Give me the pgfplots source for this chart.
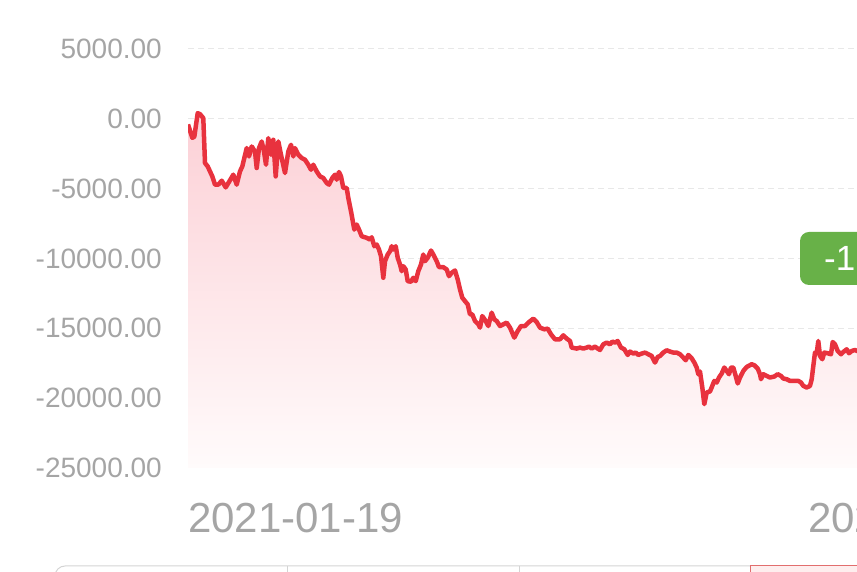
\documentclass[border=0pt]{standalone}
\usepackage{fontspec}
\setmainfont{Liberation Sans}
\usepackage{pgfplots}
\pgfplotsset{compat=1.18}
\usepackage{pgfplotstable}
\usepgfplotslibrary{fillbetween}
\definecolor{lineRed}{RGB}{232,50,62}
\definecolor{fillTop}{RGB}{252,208,214}
\definecolor{fillBot}{RGB}{255,251,251}
\definecolor{gridGray}{RGB}{232,232,232}
\definecolor{tickGray}{RGB}{165,165,165}
\definecolor{tagGreen}{RGB}{104,177,72}
\definecolor{tabGray}{RGB}{212,212,212}
\definecolor{tabRed}{RGB}{226,110,110}
\definecolor{tabPink}{RGB}{254,238,238}
\pgfplotstableread{
x y
0 -400
4.3 -1357
6.3 -1286
9.7 407
12 336
15.3 50
17 -3164
19.7 -3407
22 -3764
24.3 -4121
27 -4714
30.3 -4714
33.7 -4429
37.7 -4907
41 -4521
45.3 -4000
48.7 -4714
52 -3764
54.3 -3407
58.7 -2093
61 -2693
63.7 -1979
67 -2336
68.7 -3521
71 -2093
73.7 -1621
75.7 -2214
78 -3286
80.3 -1379
83 -2571
85.3 -1500
87.7 -4121
90.3 -1621
93 -2571
97 -3879
100.3 -2336
103 -1857
105.3 -2693
107 -2093
110.3 -2571
113.7 -2807
117 -2929
120.3 -3286
123 -3643
125.3 -3286
128.7 -3764
132 -4121
135.3 -4236
138.7 -4593
141 -4714
144.3 -4236
147 -4000
148.7 -4357
151 -3807
153 -4121
155.3 -4950
158.7 -4950
160.3 -5664
163 -6621
166.3 -7929
168.7 -7571
171 -7929
173.7 -8407
178.7 -8521
182 -8643
183.7 -8479
186.3 -9121
188.7 -9000
191 -9357
193 -9836
195.3 -11379
197 -10193
199.7 -9714
202 -9479
203.7 -9121
205.3 -9357
207.7 -9121
209.7 -9950
212 -10429
213.7 -10907
215.3 -10550
217.7 -10786
219.7 -11621
223 -11664
225.3 -11379
227.7 -11621
230.3 -10907
233 -10429
235.3 -9714
237 -10193
239.7 -9950
243 -9429
245.3 -9714
248.7 -10193
251 -10621
255.3 -10621
258.7 -10786
261 -11264
263.7 -11021
267 -10857
269.7 -11500
272 -12214
274.3 -12807
277 -13050
279.7 -13286
282 -14000
284.3 -14000
287 -14479
290.3 -14714
292 -14950
294.3 -14121
297.7 -14479
300.3 -14836
303.7 -13879
306.3 -14357
308.7 -14479
312 -14836
315.3 -14714
318.7 -14593
322 -14950
326.3 -15664
329.7 -15193
333 -14836
337 -14836
340.3 -14593
345.3 -14307
348.7 -14550
352 -14950
356.3 -15071
359.7 -15021
363 -15429
367 -15786
372 -15786
375.3 -15500
378.7 -15736
382 -15907
383.7 -16379
388.7 -16450
392 -16379
395.3 -16450
398.7 -16379
401 -16307
403.7 -16450
407 -16307
409.7 -16450
412 -16550
415.3 -16143
418.7 -16021
422 -16143
424.3 -15950
427 -16021
429.7 -15907
433 -16379
436.3 -16500
439.7 -16907
442 -16664
445.3 -16807
447.7 -16736
450.3 -16907
453.7 -16807
457 -16736
460.3 -16857
463.7 -16979
467 -17450
469.7 -17050
472 -16979
475.3 -16736
478.7 -16571
482 -16664
485.3 -16736
488.7 -16736
492 -16857
495.3 -17093
497.7 -17286
500.3 -16907
503.7 -17143
506.3 -17450
508.7 -17807
510.3 -18286
512 -18093
514.3 -19236
516.3 -20429
518.7 -19593
522 -19521
524.3 -19121
526.3 -18764
528.7 -18879
531 -18521
533.7 -18236
536.3 -17807
538.7 -18050
541 -18286
543 -17807
545.3 -17807
547.7 -18407
549.7 -18950
552 -18521
555.3 -18050
558.7 -17764
563.7 -17571
566.3 -17643
569.7 -17879
572 -18286
573 -18643
575.3 -18286
578.7 -18407
582 -18521
586.3 -18450
589.7 -18286
593 -18407
595.3 -18593
598.7 -18643
602 -18764
610.3 -18764
613 -18879
615.3 -19121
618.7 -19236
622 -19121
623.7 -18643
625.3 -17693
627 -16736
628.7 -16786
630.3 -15907
632 -16979
634.3 -17214
636.3 -16736
639.7 -16786
643 -16857
644.7 -15979
647 -16143
649.7 -16621
653 -16857
655.3 -16693
658.7 -16500
661 -16786
663.7 -16621
667 -16550
669 -16621
675 -16500
}\data

\begin{document}
\begin{tikzpicture}
\begin{axis}[
  at={(188pt,104pt)}, anchor=south west,
  scale only axis, width=669pt, height=419pt,
  xmin=0, xmax=669, ymin=-25000, ymax=5000,
  scaled y ticks=false, scaled x ticks=false,
  axis line style={draw=none},
  major tick length=0pt,
  ytick={-25000,-20000,-15000,-10000,-5000,0,5000},
  yticklabels={-25000.00,-20000.00,-15000.00,-10000.00,-5000.00,0.00,5000.00},
  xtick={0,620},
  xticklabels={2021-01-19,2022-07-05},
  ymajorgrids,
  grid style={gridGray, line width=1pt, dash pattern=on 6pt off 4pt},
  yticklabel style={anchor=east, inner sep=0pt, xshift=-26pt, text=tickGray, font=\fontsize{28}{30}\selectfont},
  xticklabel style={anchor=north west, inner sep=0pt, yshift=-35pt, text=tickGray, font=\fontsize{42}{44}\selectfont},
]
\addplot[draw=none, name path=A, forget plot] table[x=x,y=y]{\data};
\addplot[draw=none, name path=B, forget plot] coordinates {(0,-25000) (675,-25000)};
\addplot[top color=fillTop, bottom color=fillBot, draw=none] fill between[of=A and B];
\addplot[draw=lineRed, line width=4.5pt, line join=round, mark=none] table[x=x,y=y]{\data};
\end{axis}
\fill[tagGreen, rounded corners=9pt] (800pt,287pt) rectangle (900pt,340pt);
\node[anchor=west, text=white, inner sep=0pt, font=\fontsize{35}{36}\selectfont] at (824pt,313.5pt) {-16621.00};
\draw[tabGray, line width=1pt, rounded corners=10pt] (55pt,-30pt) rectangle (760pt,6pt);
\draw[tabGray, line width=1pt] (287pt,-30pt) -- (287pt,6pt);
\draw[tabGray, line width=1pt] (519pt,-30pt) -- (519pt,6pt);
\filldraw[fill=tabPink, draw=tabRed, line width=1pt] (750pt,-30pt) rectangle (900pt,6pt);
\pgfresetboundingbox
\path[use as bounding box] (0,0) rectangle (857pt,572pt);
\end{tikzpicture}
\end{document}
